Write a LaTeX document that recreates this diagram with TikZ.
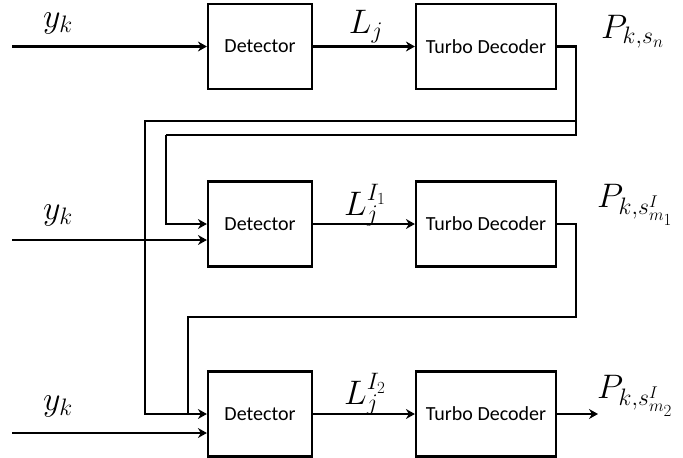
\RequirePackage{fix-cm}
\documentclass[tikz,border=0pt]{standalone}
\usepackage{fontspec}
\setsansfont{Carlito}
\usetikzlibrary{arrows.meta}
\begin{document}
\begin{tikzpicture}[x=1pt,y=-1pt,
  blk/.style={draw,line width=2.2pt,minimum height=85pt,font=\sffamily\fontsize{20}{24}\selectfont,inner sep=0pt},
  detbox/.style={blk,minimum width=104pt},
  decbox/.style={blk,minimum width=140pt},
  wire/.style={line width=2.2pt},
  arr/.style={wire,-{Stealth[length=9pt,width=10pt,inset=3pt]}},
  mlab/.style={font=\fontsize{34}{40}\selectfont,inner sep=0pt}]
\useasboundingbox (0,0) rectangle (683,458);
% boxes
\node[detbox] (det1) at (260,46.5) {Detector};
\node[decbox] (dec1) at (486,46.5) {Turbo Decoder};
\node[detbox] (det2) at (260,224) {Detector};
\node[decbox] (dec2) at (486,224) {Turbo Decoder};
\node[detbox] (det3) at (260,414) {Detector};
\node[decbox] (dec3) at (486,414) {Turbo Decoder};
% inputs
\coordinate (in1) at (12,46.5);
\coordinate (in2) at (12,240);
\coordinate (in3) at (12,433);
\draw[arr] (in1) -- (det1);
\draw[arr] (in2) -- (det2.west |- in2);
\draw[arr] (in3) -- (det3.west |- in3);
% detector to decoder
\draw[arr] (det1) -- (dec1);
\draw[arr] (det2) -- (dec2);
\draw[arr] (det3) -- (dec3);
% output
\coordinate (out3) at (598,414);
\draw[arr] (dec3) -- (out3);
% feedback paths
\coordinate (f1) at (576,46.5);
\coordinate (f1a) at (576,121);
\coordinate (f1b) at (576,135);
\coordinate (f1c) at (166,135);
\coordinate (f1d) at (145,121);
\coordinate (f2) at (576,224);
\coordinate (f2a) at (576,317);
\coordinate (f2b) at (188,317);
\draw[wire] (dec1.east) -- (f1) -- (f1b) -- (f1c);
\draw[arr] (f1c) |- (det2.west);
\draw[arr] (f1a) -- (f1d) |- (det3.west);
\draw[wire] (dec2.east) -- (f2) -- (f2a) -- (f2b) -- (f2b |- det3.west);
% labels
\node[mlab] (y1) at (58,23) {$y_k$};
\node[mlab] (y2) at (58,215) {$y_k$};
\node[mlab] (y3) at (58,406) {$y_k$};
\node[mlab] (l1) at (366,27) {$L_j$};
\node[mlab] (l2) at (365,205) {$L_j^{I_1}$};
\node[mlab] (l3) at (365,394) {$L_j^{I_2}$};
\node[mlab,anchor=west] (p1) at (601,32) {$P_{k,s_n}$};
\node[mlab,anchor=west] (p2) at (597,205) {$P_{k,s^I_{m_1}}$};
\node[mlab,anchor=west] (p3) at (597,396) {$P_{k,s^I_{m_2}}$};
\end{tikzpicture}
\end{document}
